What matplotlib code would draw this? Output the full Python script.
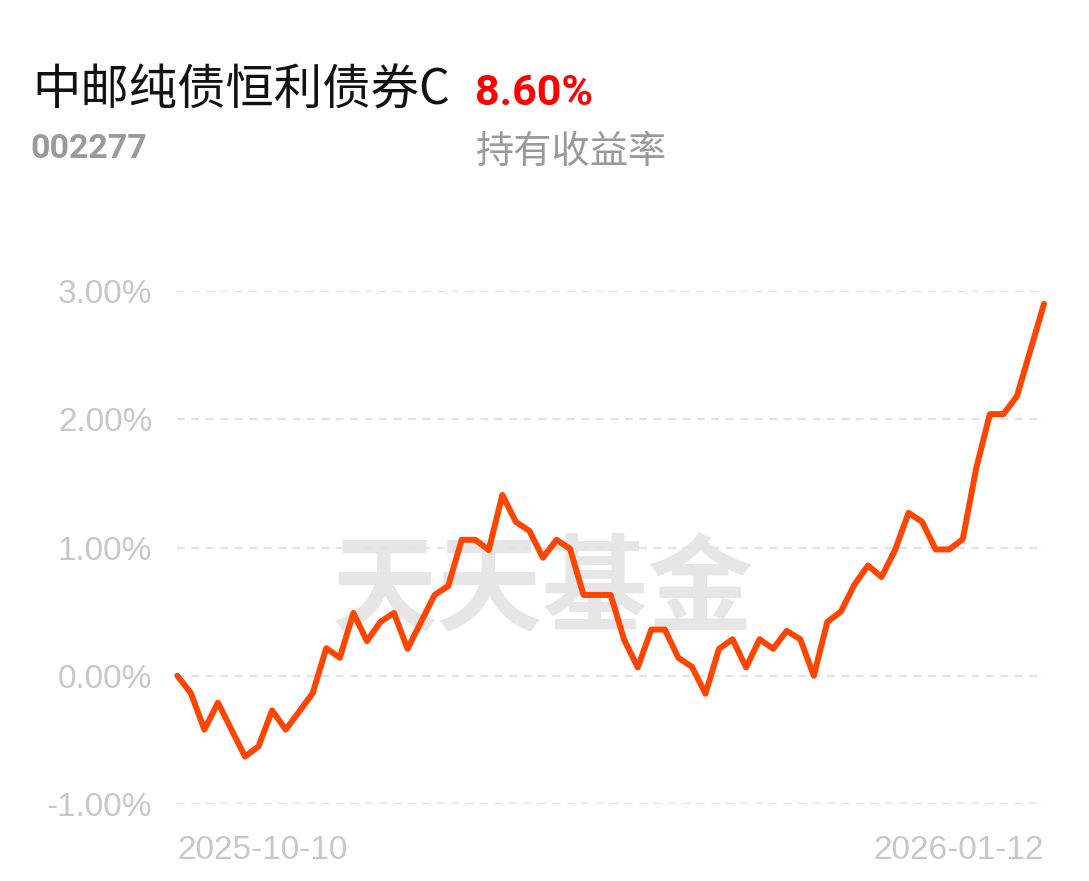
import matplotlib
matplotlib.use("Agg")
import matplotlib.pyplot as plt
import numpy as np

# ---- data ----
fund_name = "中邮纯债恒利债券C"
fund_code = "002277"
holding_return = "8.60%"
return_label = "持有收益率"
watermark = "天天基金"

date_labels = ["2025-10-10", "2026-01-12"]
yticks = [-1.0, 0.0, 1.0, 2.0, 3.0]
ytick_labels = ["-1.00%", "0.00%", "1.00%", "2.00%", "3.00%"]

returns = [0.00, -0.135, -0.42, -0.21, -0.42, -0.63, -0.55, -0.27, -0.42, -0.28,
           -0.135, 0.215, 0.14, 0.49, 0.27, 0.42, 0.49, 0.21, 0.42, 0.63,
           0.70, 1.06, 1.06, 0.98, 1.41, 1.20, 1.13, 0.92, 1.06, 0.99,
           0.63, 0.63, 0.63, 0.28, 0.065, 0.36, 0.36, 0.14, 0.07, -0.14,
           0.21, 0.285, 0.065, 0.285, 0.21, 0.35, 0.285, 0.00, 0.42, 0.50,
           0.71, 0.86, 0.77, 0.98, 1.27, 1.20, 0.985, 0.985, 1.065, 1.62,
           2.04, 2.04, 2.18, 2.54, 2.90]

W, H = 1089, 881
fig = plt.figure(figsize=(W / 100, H / 100), dpi=100)
fig.patch.set_facecolor("white")

ax = fig.add_axes([177.3 / W, (H - 804) / H, (1044 - 177.3) / W, (804 - 291) / H])
x = np.arange(len(returns))
ax.set_xlim(0, len(returns) - 1)
ax.set_ylim(-1, 3)

for s in ax.spines.values():
    s.set_visible(False)

# grid lines
for yv in yticks:
    ax.axhline(yv, color="#e3e3e3", lw=1.6, ls=(0, (3.5, 3)), zorder=1)

# watermark
ax.text(543 / W, 1 - 592 / H, watermark, transform=fig.transFigure,
        ha="center", va="center", fontsize=76, color="#e6e6e6",
        family=["Noto Sans CJK SC"], fontweight="black", zorder=0.5)

ax.plot(x, returns, color="#ff4500", lw=4.3, solid_joinstyle="round",
        solid_capstyle="round", zorder=3, clip_on=False)

ax.set_yticks(yticks)
ax.set_yticklabels(ytick_labels, family=["Liberation Sans"], fontsize=24, color="#c8c8c8")
ax.set_xticks([0, len(returns) - 1])
ax.set_xticklabels(date_labels, family=["Liberation Sans"], fontsize=24, color="#c8c8c8")
ax.tick_params(axis="y", length=0, pad=18)
ax.tick_params(axis="x", length=0, pad=22)
xl = ax.get_xticklabels()
xl[0].set_ha("left")
xl[1].set_ha("right")

# header texts
fig.text(32 / W, 1 - 104.5 / H, fund_name, ha="left", va="baseline",
         fontsize=34.8, color="#111111", family=["Noto Sans CJK SC", "DejaVu Sans"])
fig.text(475 / W, 1 - 105 / H, holding_return, ha="left", va="baseline",
         fontsize=31, color="#ff0000", family=["Roboto"], fontweight="bold")
fig.text(30 / W, 1 - 158 / H, fund_code, ha="left", va="baseline",
         fontsize=24.5, color="#9a9a9a", family=["Roboto"], fontweight="bold")
fig.text(476 / W, 1 - 163 / H, return_label, ha="left", va="baseline",
         fontsize=27.5, color="#9a9a9a", family=["Noto Sans CJK SC"])

fig.savefig("out.png", dpi=100, facecolor="white")
